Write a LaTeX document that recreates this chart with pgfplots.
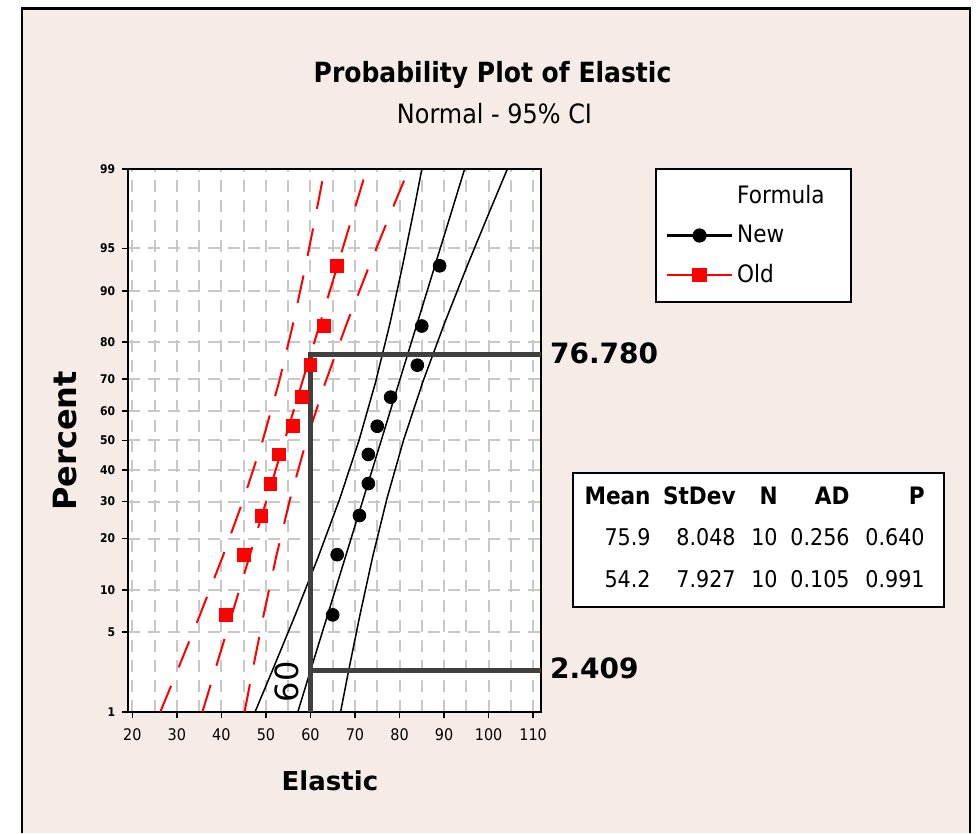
\documentclass[border=0pt]{standalone}
\usepackage{fontspec}
\setmainfont[FakeStretch=0.9]{DejaVu Sans}
\newfontfamily\widefont{DejaVu Sans}
\usepackage{pgfplots}
\usepackage{pgfplotstable}
\pgfplotsset{compat=1.18}

\definecolor{panelbg}{RGB}{245,236,231}
\definecolor{refline}{RGB}{64,64,64}
\definecolor{gridgray}{RGB}{200,200,200}

% Elastic measurements at their normal scores (median ranks (i-0.3)/(n+0.4))
\pgfplotstableread{
z        new  old
-1.4963  65   41
-0.9802  66   45
-0.6444  71   49
-0.3703  73   51
-0.1208  73   53
 0.1208  75   56
 0.3703  78   58
 0.6444  84   60
 0.9802  85   63
 1.4963  89   66
}\scores

% Fitted normal lines with their 95% confidence bands
\pgfplotstableread{
z        newlo  newfit  newhi   oldlo  oldfit  oldhi
-2.3263  47.58  57.18   66.78   26.30  35.76   45.22
-2.0     51.16  59.80   68.44   29.84  38.35   46.86
-1.5     56.56  63.83   71.10   35.15  42.31   49.47
-1.0     61.74  67.85   73.96   40.26  46.27   52.29
-0.5     66.59  71.88   77.17   45.03  50.24   55.45
 0.0     70.91  75.90   80.89   49.29  54.20   59.11
 0.5     74.63  79.92   85.22   52.95  58.16   63.38
 1.0     77.84  83.95   90.06   56.11  62.13   68.14
 1.5     80.70  87.97   95.24   58.93  66.09   73.25
 2.0     83.36  92.00  100.64   61.54  70.05   78.56
 2.3263  85.02  94.62  104.22   63.18  72.64   82.10
}\fits

\begin{document}
\begin{tikzpicture}
\useasboundingbox (-64.15pt,-60.65pt) rectangle (424.35pt,355.85pt);
\begin{scope}[shift={(-64.15pt,355.85pt)}, x=0.5pt, y=-0.5pt]
  \fill[white] (0,0) rectangle (977,833);
  \fill[panelbg] (22,8.5) rectangle (970,833);
  \draw[black, line width=1.25pt] (22,833) -- (22,8.5) -- (970,8.5) -- (970,833);
\end{scope}

\begin{axis}[
  at={(0pt,0pt)}, anchor=south west,
  scale only axis, width=206.2pt, height=271.35pt,
  xmin=19.1, xmax=111.7, ymin=-2.3263, ymax=2.3263,
  clip=false,
  axis background/.style={fill=white},
  axis line style={line width=1pt},
  xtick={20,30,...,110},
  xticklabels={20,30,40,50,60,70,80,90,100,110},
  minor xtick={25,35,...,105},
  ytick={-2.3263,-1.6449,-1.2816,-0.8416,-0.5244,-0.2533,0,0.2533,0.5244,0.8416,1.2816,1.6449,2.3263},
  yticklabels={1,5,10,20,30,40,50,60,70,80,90,95,99},
  xtick pos=left, ytick pos=left,
  grid=both,
  major grid style={gridgray, line width=1pt, dash pattern=on 6pt off 4pt},
  minor grid style={gridgray, line width=1pt, dash pattern=on 6pt off 4pt},
  tick align=outside, major tick length=3pt, minor tick length=0pt,
  tick style={black, line width=0.8pt},
  xticklabel style={font=\fontsize{8}{8}\selectfont, yshift=-2pt},
  yticklabel style={font=\bfseries\fontsize{6}{6}\selectfont, xshift=0pt},
  title={Probability Plot of Elastic},
  title style={at={(axis description cs:0.8831,1.1548)}, anchor=base, inner sep=0pt,
    yshift=-5pt, font=\bfseries\fontsize{13.9}{14}\selectfont},
  xlabel={Elastic},
  xlabel style={at={(axis description cs:0.489,-0.1277)}, anchor=center,
    font=\widefont\bfseries\fontsize{13}{13}\selectfont},
  ylabel={Percent},
  ylabel style={at={(axis description cs:-0.1535,0.4988)}, anchor=center,
    font=\widefont\bfseries\fontsize{16}{16}\selectfont},
  legend style={at={(axis description cs:1.2771,1.0018)}, anchor=north west,
    draw=black, line width=1pt, fill=white, inner xsep=5pt, inner ysep=6pt,
    row sep=5.5pt, font=\fontsize{12}{12}\selectfont, cells={anchor=west}},
  legend image code/.code={%
    \draw[mark repeat=2, mark phase=2]
      plot coordinates {(0pt,0pt) (16.25pt,0pt) (32.5pt,0pt)};},
]
\addlegendimage{empty legend}
\addlegendentry{\makebox[50pt][l]{Formula}}
\addlegendimage{black, line width=1.1pt, mark=*, mark size=3pt, mark options={solid}}
\addlegendentry{\makebox[50pt][l]{New}}
\addlegendimage{red, line width=1.1pt, mark=square*, mark size=3pt, mark options={solid}}
\addlegendentry{\makebox[50pt][l]{Old}}

% Old formula: fit and bands, dashed red
\addplot[red, line width=1pt, dash pattern=on 14pt off 10pt, forget plot] table[x=oldlo, y=z] {\fits};
\addplot[red, line width=1pt, dash pattern=on 14pt off 10pt, forget plot] table[x=oldfit, y=z] {\fits};
\addplot[red, line width=1pt, dash pattern=on 14pt off 10pt, forget plot] table[x=oldhi, y=z] {\fits};
% New formula: fit and bands, solid black
\addplot[black, line width=0.75pt, forget plot] table[x=newlo, y=z] {\fits};
\addplot[black, line width=0.75pt, forget plot] table[x=newfit, y=z] {\fits};
\addplot[black, line width=0.75pt, forget plot] table[x=newhi, y=z] {\fits};

% Percentiles at Elastic = 60
\addplot[refline, line width=2.5pt, line join=miter, forget plot]
  coordinates {(60,-2.3263) (60,0.7317) (111.7,0.7317)};
\addplot[refline, line width=2.5pt, forget plot]
  coordinates {(60,-1.9757) (111.7,-1.9757)};
\node[anchor=west, xshift=4.5pt, yshift=1pt, inner sep=0pt,
  font=\widefont\bfseries\fontsize{14}{14}\selectfont] at (axis cs:111.7,0.7317) {76.780};
\node[anchor=west, xshift=4.5pt, yshift=1pt, inner sep=0pt,
  font=\widefont\bfseries\fontsize{14}{14}\selectfont] at (axis cs:111.7,-1.9757) {2.409};
\node[rotate=90, inner sep=0pt, font=\widefont\fontsize{16}{16}\selectfont]
  at (axis cs:54.65,-2.069) {60};

% Observations
\addplot[only marks, mark=square*, mark size=3.2pt, red, forget plot] table[x=old, y=z] {\scores};
\addplot[only marks, mark=*, mark size=3.2pt, black, forget plot] table[x=new, y=z] {\scores};
\end{axis}

\begin{scope}[shift={(-64.15pt,355.85pt)}, x=0.5pt, y=-0.5pt]
  \node[anchor=base, inner sep=0pt, font=\fontsize{13.3}{14}\selectfont] at (494.5,124) {Normal - 95\% CI};
  % summary statistics
  \draw[black, line width=1pt, fill=white] (573,473) rectangle (944,607);
  \begin{scope}[every node/.style={anchor=base east, inner sep=0pt, font=\bfseries\fontsize{12}{12}\selectfont}]
    \node at (651,505) {Mean};
    \node at (736,505) {StDev};
    \node at (778,505) {N};
    \node at (850,505) {AD};
    \node at (925,505) {P};
  \end{scope}
  \begin{scope}[every node/.style={anchor=base east, inner sep=0pt, font=\fontsize{11.5}{12}\selectfont}]
    \node at (651,546) {75.9};
    \node at (736,546) {8.048};
    \node at (778,546) {10};
    \node at (850,546) {0.256};
    \node at (925,546) {0.640};
    \node at (651,588) {54.2};
    \node at (736,588) {7.927};
    \node at (778,588) {10};
    \node at (850,588) {0.105};
    \node at (925,588) {0.991};
  \end{scope}
\end{scope}
\end{tikzpicture}
\end{document}
